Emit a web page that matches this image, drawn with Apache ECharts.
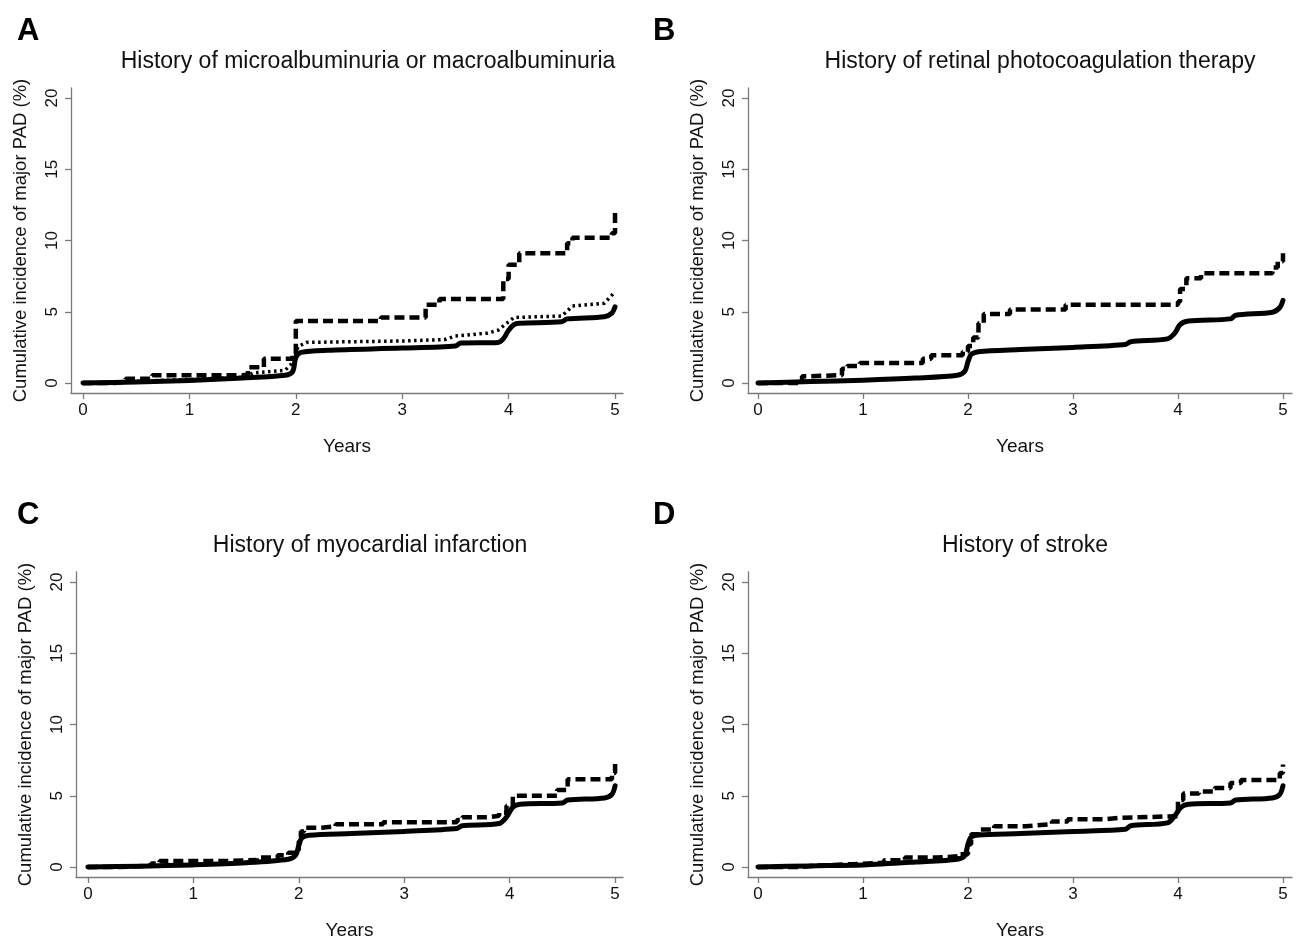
<!DOCTYPE html>
<html>
<head>
<meta charset="utf-8">
<script src="https://cdn.jsdelivr.net/npm/echarts@6/dist/echarts.min.js"></script>
<style>
  html, body { margin: 0; padding: 0; background: #fff; }
  #chart { width: 1296px; height: 941px; }
</style>
</head>
<body>
<div id="chart"></div>
<script>
// panel titles and letters
const panelLetters = ['A', 'B', 'C', 'D']
const panelTitles = [
  'History of microalbuminuria or macroalbuminuria',
  'History of retinal photocoagulation therapy',
  'History of myocardial infarction',
  'History of stroke'
]
const xTicks = [0, 1, 2, 3, 4, 5]
const yTicks = [0, 5, 10, 15, 20]

// A: solid = no history, dotted / dashed = history groups  [years, %]
const aSolid = [[0, 0], [0.5, 0.08], [1, 0.18], [1.5, 0.35], [1.9, 0.55], [1.97, 0.8], [2.0, 1.8], [2.05, 2.15], [2.3, 2.3], [3.0, 2.45], [3.5, 2.6], [3.55, 2.8], [3.9, 2.85], [3.95, 3.1], [4.0, 3.7], [4.05, 4.1], [4.1, 4.2], [4.5, 4.3], [4.55, 4.5], [4.9, 4.65], [4.97, 4.9], [5.0, 5.35]]
const aDotted = [[0, 0], [0.5, 0.12], [1, 0.25], [1.5, 0.4], [1.6, 0.7], [1.9, 0.9], [1.98, 1.5], [2.02, 2.55], [2.1, 2.85], [3.0, 2.95], [3.4, 3.05], [3.5, 3.3], [3.8, 3.5], [3.9, 3.7], [4.0, 4.3], [4.05, 4.6], [4.5, 4.7], [4.6, 5.4], [4.9, 5.6], [5.0, 6.4]]
const aDashed = [[0, 0], [0.3, 0.1], [0.4, 0.3], [0.65, 0.55], [1.5, 0.6], [1.55, 1.1], [1.7, 1.7], [1.97, 2.0], [2.0, 4.35], [2.8, 4.6], [3.22, 5.5], [3.35, 5.9], [3.95, 7.3], [4.0, 8.3], [4.1, 9.1], [4.55, 9.8], [4.6, 10.2], [4.97, 10.5], [5.0, 12.0]]

// B
const bSolid = [[0, 0], [0.5, 0.1], [1, 0.2], [1.5, 0.35], [1.9, 0.55], [1.97, 0.82], [2.0, 1.5], [2.03, 2.0], [2.1, 2.2], [2.5, 2.35], [3.0, 2.5], [3.5, 2.7], [3.55, 2.9], [3.9, 3.1], [3.97, 3.5], [4.02, 4.1], [4.1, 4.35], [4.5, 4.5], [4.55, 4.75], [4.9, 4.97], [4.97, 5.3], [5.0, 5.8]]
const bDashed = [[0, 0], [0.42, 0.47], [0.45, 0.55], [0.8, 1.0], [0.85, 1.2], [0.97, 1.4], [1.57, 1.7], [1.65, 1.95], [1.95, 2.2], [2.0, 2.6], [2.05, 3.2], [2.1, 4.2], [2.15, 4.85], [2.4, 5.15], [2.93, 5.5], [4.0, 5.7], [4.02, 6.6], [4.08, 7.35], [4.22, 7.7], [4.9, 8.1], [4.95, 8.55], [5.0, 9.1]]

// C
const cSolid = [[0, 0], [0.5, 0.06], [1, 0.15], [1.5, 0.3], [1.9, 0.55], [1.97, 0.82], [2.0, 1.5], [2.03, 2.05], [2.1, 2.23], [2.5, 2.35], [3.0, 2.5], [3.5, 2.7], [3.55, 2.9], [3.9, 3.05], [3.97, 3.5], [4.03, 4.2], [4.1, 4.4], [4.5, 4.5], [4.55, 4.7], [4.9, 4.85], [4.97, 5.1], [5.0, 5.7]]
const cDashed = [[0, 0], [0.3, 0.1], [0.6, 0.25], [0.68, 0.42], [1.3, 0.5], [1.6, 0.66], [1.8, 0.82], [1.9, 1.0], [2.0, 1.8], [2.02, 2.5], [2.05, 2.75], [2.2, 2.85], [2.35, 3.0], [2.8, 3.15], [3.5, 3.3], [3.55, 3.5], [3.8, 3.6], [3.9, 3.8], [3.97, 4.3], [4.03, 5.0], [4.45, 5.4], [4.55, 6.15], [4.97, 6.6], [5.0, 7.45]]

// D
const dSolid = [[0, 0], [0.5, 0.08], [1, 0.15], [1.5, 0.35], [1.9, 0.55], [1.97, 0.8], [2.0, 1.6], [2.03, 2.1], [2.1, 2.25], [2.5, 2.35], [3.0, 2.5], [3.5, 2.65], [3.55, 2.9], [3.9, 3.1], [3.97, 3.6], [4.03, 4.2], [4.1, 4.4], [4.5, 4.5], [4.55, 4.7], [4.9, 4.85], [4.97, 5.1], [5.0, 5.7]]
const dDashed = [[0, 0], [0.4, 0.1], [0.55, 0.2], [0.9, 0.3], [1.2, 0.47], [1.4, 0.66], [1.7, 0.75], [1.9, 0.9], [2.0, 1.6], [2.03, 2.3], [2.1, 2.63], [2.25, 2.86], [2.55, 3.0], [2.8, 3.2], [2.95, 3.35], [3.3, 3.45], [3.45, 3.57], [4.0, 4.7], [4.05, 5.15], [4.2, 5.3], [4.35, 5.55], [4.5, 5.9], [4.6, 6.1], [4.97, 6.6], [5.0, 7.2]]

const FONT = 'Liberation Sans, Arial, Helvetica, sans-serif'

// plot frames: axis-line x, right edge, top, x-axis y, and x range per panel
const frames = [
  { left: 71, right: 623, top: 88, bottom: 393, xMin: -0.113, xMax: 5.075 },
  { left: 748, right: 1292, top: 88, bottom: 393, xMin: -0.095, xMax: 5.086 },
  { left: 76, right: 623, top: 572, bottom: 877, xMin: -0.113, xMax: 5.075 },
  { left: 748, right: 1292, top: 572, bottom: 877, xMin: -0.095, xMax: 5.086 }
]
const titlePos = [[363, 45], [1035, 45], [365, 529], [1020, 529]]
const letterPos = [[12, 11], [648, 11], [12, 495], [648, 495]]

const chart = echarts.init(document.getElementById('chart'))

const grid = frames.map(f => ({
  left: f.left, top: f.top, width: f.right - f.left, height: f.bottom - f.top, containLabel: false
}))

const axisLine = { show: true, onZero: false, lineStyle: { color: '#7a7a7a', width: 1.3 } }
const tickStyle = { color: '#7a7a7a', width: 1.3 }

const xAxis = frames.map((f, i) => ({
  gridIndex: i,
  type: 'value',
  min: f.xMin,
  max: f.xMax,
  name: 'Years',
  nameLocation: 'middle',
  nameGap: 44,
  nameTextStyle: { fontFamily: FONT, fontSize: 19, color: '#111' },
  axisLine,
  axisTick: { show: true, customValues: xTicks, length: 6, lineStyle: tickStyle },
  axisLabel: { customValues: xTicks, margin: 9, fontFamily: FONT, fontSize: 17, color: '#111' },
  splitLine: { show: false }
}))

const yAxis = frames.map((f, i) => ({
  gridIndex: i,
  type: 'value',
  min: -0.7,
  max: 20.7,
  name: 'Cumulative incidence of major PAD (%)',
  nameLocation: 'middle',
  nameGap: 41,
  nameRotate: 90,
  nameTextStyle: { fontFamily: FONT, fontSize: 18.5, color: '#111' },
  axisLine,
  axisTick: { show: true, customValues: yTicks, length: 6, lineStyle: tickStyle },
  axisLabel: { customValues: yTicks, rotate: 90, margin: 10, fontFamily: FONT, fontSize: 17, color: '#111' },
  splitLine: { show: false }
}))

function solid(data, i) {
  return { type: 'line', xAxisIndex: i, yAxisIndex: i, data, symbol: 'none', smooth: 0.3, z: 3,
    lineStyle: { color: '#000', width: 5, cap: 'round', join: 'round' } }
}
function dashed(data, i) {
  return { type: 'line', xAxisIndex: i, yAxisIndex: i, data, symbol: 'none', step: 'end', z: 2,
    lineStyle: { color: '#000', width: 4.5, type: [10, 5], cap: 'butt' } }
}
function dotted(data, i) {
  return { type: 'line', xAxisIndex: i, yAxisIndex: i, data, symbol: 'none', z: 2,
    lineStyle: { color: '#000', width: 3.5, type: [2.5, 3.5], cap: 'butt' } }
}

const series = [
  solid(aSolid, 0), dotted(aDotted, 0), dashed(aDashed, 0),
  solid(bSolid, 1), dashed(bDashed, 1),
  solid(cSolid, 2), dashed(cDashed, 2),
  solid(dSolid, 3), dashed(dDashed, 3)
]

const title = []
panelTitles.forEach((t, i) => {
  title.push({ text: t, left: titlePos[i][0], top: titlePos[i][1], textAlign: 'center',
    textStyle: { fontFamily: FONT, fontSize: 23, fontWeight: 'normal', color: '#111' } })
})
panelLetters.forEach((t, i) => {
  title.push({ text: t, left: letterPos[i][0], top: letterPos[i][1],
    textStyle: { fontFamily: FONT, fontSize: 31, fontWeight: 'bold', color: '#000' } })
})

chart.setOption({
  animation: false,
  backgroundColor: '#fff',
  title,
  grid,
  xAxis,
  yAxis,
  series
})
</script>
</body>
</html>
